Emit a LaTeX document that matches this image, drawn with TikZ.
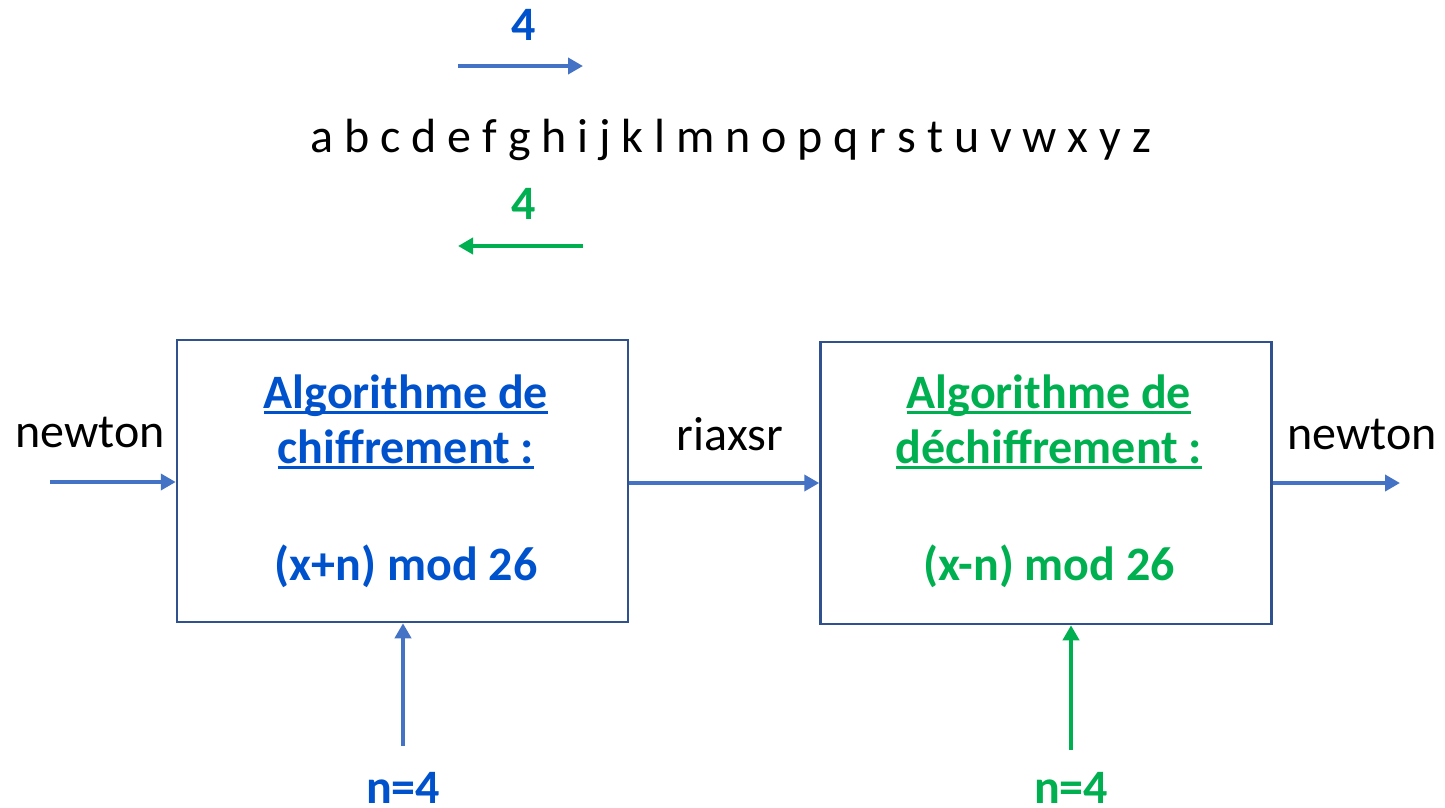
\documentclass[tikz,border=0pt]{standalone}
\usepackage{fontspec}
\setmainfont{Carlito}
\usetikzlibrary{arrows.meta}
\definecolor{tblue}{RGB}{0,82,204}
\definecolor{ablue}{RGB}{68,114,196}
\definecolor{bblue}{RGB}{47,82,143}
\definecolor{tgreen}{RGB}{0,176,80}
\newcommand\ulx[1]{\setbox0\hbox{#1}\rlap{\rule[-0.13em]{\wd0}{0.062em}}\box0}
\begin{document}
\begin{tikzpicture}[x=1pt,y=-1pt,
  txt/.style={inner sep=0pt, anchor=base, font=\fontsize{48}{57}\selectfont},
  btxt/.style={inner sep=0pt, anchor=base, font=\fontsize{48}{57}\selectfont\bfseries},
  box/.style={draw=bblue, line width=2.5pt, minimum width=451pt, minimum height=282pt, inner sep=0pt},
  arr/.style={line width=4.2pt, -{Triangle[length=15pt,width=16pt]}}]
\useasboundingbox (0,0) rectangle (1445,807);

% top shift indicators
\node[btxt, text=tblue] (k4a) at (524,40) {4};
\coordinate (ta1) at (458,66);
\coordinate (ta2) at (583,66);
\draw[arr, draw=ablue, fill=ablue] (ta1) -- (ta2);
\node[txt] (alpha) at (731,152) {a b c d e f g h i j k l m n o p q r s t u v w x y z};
\node[btxt, text=tgreen] (k4b) at (524,219) {4};
\coordinate (tb1) at (583,246);
\coordinate (tb2) at (458,246);
\draw[arr, draw=tgreen, fill=tgreen] (tb1) -- (tb2);

% boxes
\node[box] (enc) at (402.5,481) {};
\node[box] (dec) at (1046,483) {};

\node[btxt, text=tblue] (e1) at (406,408) {\ulx{Algorithme de}};
\node[btxt, text=tblue] (e2) at (406,463) {\ulx{chiffrement :}};
\node[btxt, text=tblue] (e3) at (406,580) {(x+n) mod 26};

\node[btxt, text=tgreen] (d1) at (1049,408) {\ulx{Algorithme de}};
\node[btxt, text=tgreen] (d2) at (1049,463) {\ulx{déchiffrement :}};
\node[btxt, text=tgreen] (d3) at (1049,580) {(x-n) mod 26};

% labels
\node[txt] (inlab) at (90,447) {newton};
\node[txt] (midlab) at (730,450) {riaxsr};
\node[txt] (outlab) at (1362,449) {newton};
\node[btxt, text=tblue] (n1) at (403,803) {n=4};
\node[btxt, text=tgreen] (n2) at (1071,803) {n=4};

% connectors
\coordinate (inL) at (50,482);
\coordinate (outR) at (1400,483);
\coordinate (k1) at (403,746);
\coordinate (k2) at (1071,750);
\draw[arr, draw=ablue, fill=ablue] (inL) -- (inL -| enc.west);
\draw[arr, draw=ablue, fill=ablue] (enc.east |- outR) -- (dec.west |- outR);
\draw[arr, draw=ablue, fill=ablue] (dec.east |- outR) -- (outR);
\draw[arr, draw=ablue, fill=ablue] (k1) -- (k1 |- enc.south);
\draw[arr, draw=tgreen, fill=tgreen] (k2) -- (k2 |- dec.south);
\end{tikzpicture}
\end{document}
